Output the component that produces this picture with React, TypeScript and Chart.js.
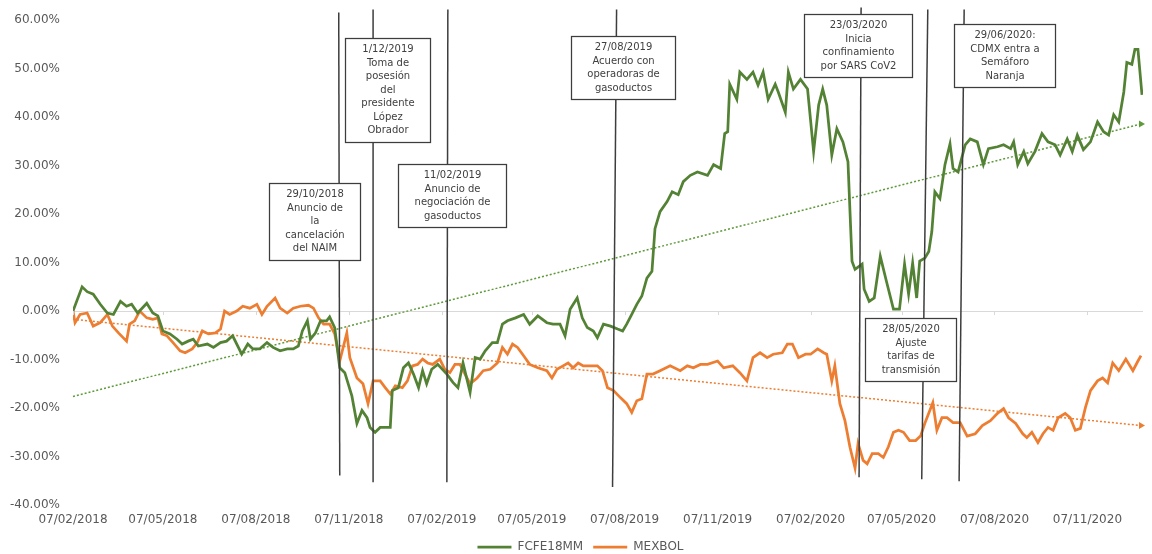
import React, { useEffect, useRef } from "react";
import { Chart, registerables } from "chart.js";

Chart.register(...registerables);

// ---- DATA -------------------------------------------------------------
const startDate = "07/02/2018";

const tickLabels = [
  "07/02/2018", "07/05/2018", "07/08/2018", "07/11/2018",
  "07/02/2019", "07/05/2019", "07/08/2019", "07/11/2019",
  "07/02/2020", "07/05/2020", "07/08/2020", "07/11/2020",
];

const yMin = -40;
const yMax = 60;
const yStep = 10;
const xMaxDay = 1059;

// [days since 07/02/2018, % change]
const fcfeSeries: [number, number][] = [
  [0, 0.0], [9, 5.0], [14, 4.0], [20, 3.5], [27, 1.4], [34, -0.4], [40, -0.7], [47, 2.0], [53, 1.0], [58, 1.4],
  [64, -0.4], [73, 1.6], [79, -0.4], [84, -1.0], [89, -4.1], [96, -4.7], [103, -5.8], [108, -6.8], [114, -6.2], [119, -5.8],
  [124, -7.2], [133, -6.8], [139, -7.5], [146, -6.5], [152, -6.2], [158, -5.1], [167, -8.9], [173, -6.8], [178, -7.8], [185, -7.8],
  [192, -6.5], [198, -7.5], [205, -8.2], [212, -7.8], [218, -7.8], [223, -7.2], [227, -4.1], [232, -2.0], [235, -5.8], [240, -4.5],
  [245, -2.0], [251, -2.0], [254, -1.2], [259, -3.4], [264, -11.7], [269, -12.7], [276, -17.5], [281, -23.2], [286, -20.5], [291, -22.0],
  [294, -24.0], [299, -25.0], [304, -24.0], [314, -24.0], [316, -16.4], [322, -15.8], [327, -11.7], [332, -10.7], [337, -13.0], [342, -15.8],
  [346, -12.3], [350, -15.0], [355, -12.0], [361, -11.0], [370, -13.0], [376, -14.7], [381, -15.8], [386, -10.7], [393, -16.8], [398, -9.6],
  [403, -9.9], [408, -8.2], [415, -6.5], [420, -6.5], [425, -2.7], [430, -2.0], [438, -1.4], [446, -0.7], [452, -2.7], [460, -1.0],
  [469, -2.4], [475, -2.7], [482, -2.7], [487, -5.1], [492, 0.4], [499, 2.7], [504, -1.4], [509, -3.4], [515, -4.1], [519, -5.5],
  [525, -2.7], [532, -3.1], [539, -3.7], [544, -4.1], [548, -2.7], [553, -0.7], [558, 1.4], [563, 3.1], [568, 6.8], [573, 8.2],
  [576, 17.0], [581, 20.5], [588, 22.6], [593, 24.6], [599, 24.0], [604, 26.7], [611, 28.0], [618, 28.7], [628, 28.0], [634, 30.2],
  [641, 29.4], [645, 36.6], [648, 37.0], [650, 46.8], [657, 43.7], [660, 49.3], [667, 47.8], [673, 49.3], [678, 46.6], [683, 49.3],
  [688, 43.7], [695, 46.8], [698, 45.2], [705, 41.0], [708, 49.3], [713, 45.8], [720, 47.8], [727, 45.8], [733, 32.9], [738, 42.5],
  [742, 45.8], [746, 42.5], [751, 32.2], [756, 37.6], [762, 34.9], [767, 30.8], [771, 10.3], [774, 8.6], [781, 9.7], [783, 4.5],
  [788, 2.0], [793, 2.7], [799, 11.3], [805, 6.2], [812, 0.4], [818, 0.4], [823, 9.7], [827, 3.5], [831, 9.9], [835, 2.7],
  [838, 10.3], [843, 10.9], [847, 12.3], [850, 16.4], [853, 24.6], [858, 23.2], [863, 30.2], [868, 34.5], [871, 29.4], [876, 28.7],
  [883, 34.3], [888, 35.5], [895, 34.9], [901, 30.2], [906, 33.5], [915, 33.9], [921, 34.3], [928, 33.5], [931, 34.9], [935, 30.2],
  [941, 32.9], [945, 30.4], [952, 32.9], [959, 36.6], [965, 34.9], [972, 34.3], [977, 32.2], [984, 35.5], [989, 32.9], [994, 36.3],
  [1000, 33.3], [1007, 34.9], [1014, 39.0], [1020, 37.0], [1025, 36.3], [1030, 40.5], [1035, 39.0], [1040, 45.2], [1043, 51.3], [1048, 50.9],
  [1051, 54.0], [1054, 54.0], [1058, 44.6],
];

const mexbolSeries: [number, number][] = [
  [0, 0.0], [2, -2.4], [7, -0.7], [14, -0.4], [20, -3.1], [27, -2.4], [34, -0.7], [39, -3.1], [45, -4.5], [53, -6.2],
  [56, -2.7], [61, -2.0], [66, 0.0], [73, -1.4], [79, -1.7], [84, -1.4], [88, -4.7], [93, -5.1], [99, -6.5], [106, -8.2],
  [111, -8.6], [118, -7.8], [123, -6.5], [128, -4.1], [134, -4.7], [141, -4.5], [146, -3.7], [150, 0.0], [155, -0.7], [162, 0.0],
  [168, 1.0], [175, 0.6], [182, 1.4], [187, -0.7], [192, 1.0], [200, 2.7], [205, 0.6], [212, -0.4], [218, 0.6], [225, 1.0],
  [233, 1.2], [238, 0.6], [243, -1.4], [248, -2.7], [254, -2.7], [259, -4.7], [264, -10.3], [271, -4.5], [274, -9.6], [281, -13.8],
  [287, -15.0], [292, -19.1], [297, -14.4], [304, -14.4], [309, -15.8], [314, -17.1], [319, -15.4], [326, -15.8], [331, -14.4], [336, -11.3],
  [341, -11.0], [346, -9.9], [351, -10.7], [356, -11.0], [363, -9.9], [368, -12.0], [373, -12.7], [378, -11.0], [383, -11.0], [388, -13.0],
  [393, -15.0], [400, -13.8], [406, -12.3], [413, -12.0], [420, -10.7], [425, -7.5], [430, -8.9], [435, -6.8], [440, -7.5], [446, -9.2],
  [452, -11.0], [460, -11.7], [469, -12.3], [474, -13.8], [479, -12.0], [485, -11.3], [490, -10.7], [495, -11.7], [500, -10.7], [505, -11.3],
  [512, -11.3], [519, -11.3], [524, -12.3], [529, -15.8], [535, -16.4], [542, -17.9], [548, -19.1], [553, -20.9], [558, -18.5], [563, -18.1],
  [568, -13.0], [574, -13.0], [581, -12.3], [591, -11.3], [601, -12.3], [608, -11.3], [614, -11.7], [621, -11.0], [628, -11.0], [638, -10.3],
  [644, -11.7], [653, -11.3], [660, -12.7], [667, -14.4], [673, -9.6], [680, -8.6], [687, -9.6], [693, -8.9], [702, -8.6], [707, -6.8],
  [712, -6.8], [718, -9.6], [725, -8.9], [730, -8.9], [737, -7.8], [743, -8.6], [746, -8.9], [751, -14.4], [754, -11.3], [759, -19.1],
  [764, -22.6], [769, -28.1], [774, -32.4], [777, -27.3], [782, -30.8], [786, -31.5], [791, -29.4], [797, -29.4], [802, -30.2], [807, -28.0],
  [812, -25.0], [817, -24.6], [822, -25.0], [828, -26.7], [834, -26.7], [839, -25.7], [843, -23.2], [848, -20.5], [851, -18.9], [855, -24.6],
  [860, -22.0], [865, -22.0], [871, -23.0], [878, -23.0], [885, -25.8], [893, -25.3], [900, -23.6], [908, -22.6], [915, -21.1], [921, -20.1],
  [926, -22.0], [933, -23.2], [940, -25.3], [944, -26.1], [949, -25.0], [955, -27.1], [960, -25.3], [965, -24.0], [970, -24.6], [975, -22.0],
  [982, -21.1], [987, -22.0], [992, -24.6], [997, -24.2], [1002, -19.9], [1007, -16.4], [1014, -14.4], [1019, -13.8], [1024, -14.8], [1029, -10.7],
  [1035, -12.3], [1042, -9.9], [1049, -12.3], [1054, -10.3], [1057, -9.2],
];

// linear trend lines (start / end)
const trendDays = [0, 1057];
const fcfeTrend = [-17.6, 38.6];
const mexbolTrend = [-1.7, -23.6];

// event annotations
const eventLabels = [
  ["29/10/2018", "Anuncio de", "la", "cancelación", "del NAIM"],
  ["1/12/2019", "Toma de", "posesión", "del", "presidente", "López", "Obrador"],
  ["11/02/2019", "Anuncio de", "negociación de", "gasoductos"],
  ["27/08/2019", "Acuerdo con", "operadoras de", "gasoductos"],
  ["23/03/2020", "Inicia", "confinamiento", "por SARS CoV2"],
  ["29/06/2020:", "CDMX entra a", "Semáforo", "Naranja"],
  ["28/05/2020", "Ajuste", "tarifas de", "transmisión"],
];
const eventLineTopDays = [263, 297, 371, 538, 780, 882, 846];
const eventLineBottomDays = [264, 297, 370, 534, 778, 877, 840];
const eventLineTopValues = [61.6, 62.2, 62.2, 62.2, 62.6, 62.2, 62.2];
const eventLineBottomValues = [-33.9, -35.3, -35.3, -36.3, -34.3, -35.1, -34.7];
const eventBoxCenterDays = [239, 311, 375, 544, 777, 922, 829];
const eventBoxTopValues = [26.5, 56.3, 30.4, 56.7, 61.2, 59.3, -1.4];

// ---- HELPERS ----------------------------------------------------------
const toUTC = (s: string) => {
  const [d, m, y] = s.split("/").map(Number);
  return Date.UTC(y, m - 1, d);
};
const toDay = (s: string) => Math.round((toUTC(s) - toUTC(startDate)) / 86400000);
const toPoints = (series: [number, number][]) => series.map(([x, y]) => ({ x, y }));
const pairs = (xs: number[], ys: number[]) => xs.map((x, i) => ({ x, y: ys[i] }));

const GREEN = "#548235";
const ORANGE = "#ED7D31";
const FONT = "DejaVu Sans";

export default function App() {
  const canvasRef = useRef<HTMLCanvasElement>(null);

  useEffect(() => {
    if (!canvasRef.current) return;
    const tickDays = tickLabels.map(toDay);

    const eventsPlugin = {
      id: "events",
      afterDatasetsDraw(chart: any) {
        const { ctx, scales } = chart;
        const x = scales.x;
        const y = scales.y;
        ctx.save();
        // small tick marks on the zero line
        const y0 = y.getPixelForValue(0);
        ctx.strokeStyle = "#d9d9d9";
        ctx.lineWidth = 1;
        tickDays.forEach((d) => {
          const px = Math.round(x.getPixelForValue(d)) + 0.5;
          ctx.beginPath();
          ctx.moveTo(px, y0);
          ctx.lineTo(px, y0 + 4);
          ctx.stroke();
        });
        // vertical event lines
        ctx.strokeStyle = "#3d3d3d";
        ctx.lineWidth = 1.5;
        eventLabels.forEach((_, i) => {
          ctx.beginPath();
          ctx.moveTo(x.getPixelForValue(eventLineTopDays[i]), y.getPixelForValue(eventLineTopValues[i]));
          ctx.lineTo(x.getPixelForValue(eventLineBottomDays[i]), y.getPixelForValue(eventLineBottomValues[i]));
          ctx.stroke();
        });
        // boxes
        ctx.font = `10px "${FONT}"`;
        const lineH = 13.5;
        eventLabels.forEach((lines, i) => {
          const tw = Math.max(...lines.map((l) => ctx.measureText(l).width));
          const w = Math.round(tw + 32);
          const h = Math.round(lines.length * lineH + 9);
          const cx = x.getPixelForValue(eventBoxCenterDays[i]);
          const top = Math.round(y.getPixelForValue(eventBoxTopValues[i])) + 0.5;
          const left = Math.round(cx - w / 2) + 0.5;
          ctx.fillStyle = "#ffffff";
          ctx.fillRect(left, top, w, h);
          ctx.strokeStyle = "#3d3d3d";
          ctx.lineWidth = 1.25;
          ctx.strokeRect(left, top, w, h);
          ctx.fillStyle = "#404040";
          ctx.textAlign = "center";
          ctx.textBaseline = "middle";
          lines.forEach((l, j) => {
            ctx.fillText(l, left + w / 2, top + 4.5 + lineH * (j + 0.5));
          });
        });
        ctx.restore();
      },
    };

    const legendShift = {
      id: "legendShift",
      afterLayout(chart: any) {
        const lg = chart.legend;
        if (lg) {
          lg.left += 9;
          lg.right += 9;
        }
      },
    };

    const chart = new Chart(canvasRef.current, {
      type: "line",
      data: {
        datasets: [
          {
            label: "FCFE18MM",
            data: toPoints(fcfeSeries),
            borderColor: GREEN,
            backgroundColor: GREEN,
            borderWidth: 2.75,
            pointRadius: 0,
            tension: 0,
            order: 1,
          },
          {
            label: "MEXBOL",
            data: toPoints(mexbolSeries),
            borderColor: ORANGE,
            backgroundColor: ORANGE,
            borderWidth: 2.75,
            pointRadius: 0,
            tension: 0,
            order: 2,
          },
          {
            label: "Lineal (FCFE18MM)",
            data: pairs(trendDays, fcfeTrend),
            borderColor: "#5E9A3A",
            backgroundColor: "#5E9A3A",
            borderWidth: 1.5,
            borderDash: [2, 2],
            pointRadius: [0, 4],
            pointStyle: "triangle",
            rotation: 90,
            pointBorderWidth: 0,
            clip: false,
            order: 3,
          },
          {
            label: "Lineal (MEXBOL)",
            data: pairs(trendDays, mexbolTrend),
            borderColor: ORANGE,
            backgroundColor: ORANGE,
            borderWidth: 1.5,
            borderDash: [2, 2],
            pointRadius: [0, 4],
            pointStyle: "triangle",
            rotation: 90,
            pointBorderWidth: 0,
            clip: false,
            order: 4,
          },
        ],
      },
      options: {
        animation: false,
        responsive: true,
        maintainAspectRatio: false,
        layout: { padding: { top: 18, right: 9, left: 0, bottom: 0 } },
        scales: {
          x: {
            type: "linear",
            min: 0,
            max: xMaxDay,
            grid: { display: false, drawTicks: false },
            border: { display: false },
            afterBuildTicks: (scale: any) => {
              scale.ticks = tickDays.map((v) => ({ value: v }));
            },
            afterFit: (scale: any) => {
              scale.height = 26;
            },
            ticks: {
              autoSkip: false,
              maxRotation: 0,
              padding: 8,
              color: "#595959",
              font: { family: FONT, size: 12 },
              callback: (v: any) => {
                const i = tickDays.indexOf(Number(v));
                return i >= 0 ? tickLabels[i] : "";
              },
            },
          },
          y: {
            min: yMin,
            max: yMax,
            grid: {
              drawTicks: false,
              color: (c: any) => (c.tick && c.tick.value === 0 ? "#d9d9d9" : "rgba(0,0,0,0)"),
              lineWidth: 1,
            },
            border: { display: false },
            afterFit: (scale: any) => {
              scale.width = 73;
            },
            ticks: {
              stepSize: yStep,
              padding: 13,
              color: "#595959",
              font: { family: FONT, size: 12 },
              callback: (v: any) => Number(v).toFixed(2) + "%",
            },
          },
        },
        plugins: {
          tooltip: { enabled: false },
          legend: {
            position: "bottom",
            maxHeight: 23,
            labels: {
              usePointStyle: true,
              pointStyle: "line",
              pointStyleWidth: 34,
              padding: 10,
              color: "#595959",
              font: { family: FONT, size: 12 },
              filter: (item: any) => item.datasetIndex < 2,
            },
          },
        },
      },
      plugins: [eventsPlugin, legendShift],
    } as any);

    return () => chart.destroy();
  }, []);

  return (
    <div style={{ position: "fixed", left: 0, top: 0, width: 1152, height: 554, background: "#fff" }}>
      <canvas ref={canvasRef} />
    </div>
  );
}
